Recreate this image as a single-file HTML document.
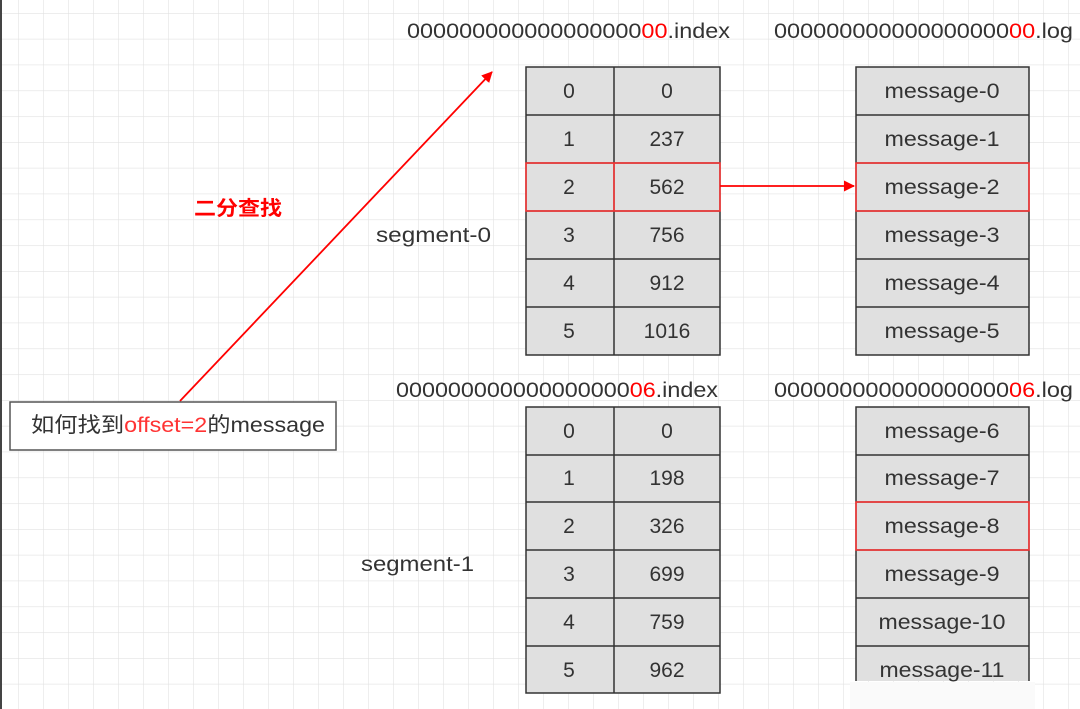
<!DOCTYPE html>
<html><head><meta charset="utf-8"><style>
html,body{margin:0;padding:0;background:#fff}
svg{display:block}
text{font-family:"Liberation Sans","Noto Sans CJK SC",sans-serif;fill:#333;font-size:21px}
</style></head><body>
<svg width="1080" height="709" viewBox="0 0 1080 709" xmlns="http://www.w3.org/2000/svg">
<defs>
<pattern id="g" x="18" y="13" width="25" height="25.8" patternUnits="userSpaceOnUse">
<path d="M0 0V25.8M0 0H25" stroke="#e2e2e2" stroke-width="1.2" fill="none"/>
</pattern>
<marker id="ah" markerWidth="11" markerHeight="11" refX="10" refY="5.5" orient="auto" markerUnits="userSpaceOnUse"><path d="M0 0L11 5.5L0 11Z" fill="#f00"/></marker>
</defs>
<rect width="1080" height="709" fill="#fff"/>
<rect width="1080" height="709" fill="url(#g)"/>
<rect x="0" y="0" width="2" height="709" fill="#444"/>
<g>
<text x="407" y="38" textLength="323" lengthAdjust="spacingAndGlyphs">000000000000000000<tspan style="fill:#f00">00</tspan>.index</text>
<text x="774" y="38" textLength="299" lengthAdjust="spacingAndGlyphs">000000000000000000<tspan style="fill:#f00">00</tspan>.log</text>
<text x="396" y="397" textLength="322" lengthAdjust="spacingAndGlyphs">000000000000000000<tspan style="fill:#f00">06</tspan>.index</text>
<text x="774" y="397" textLength="299" lengthAdjust="spacingAndGlyphs">000000000000000000<tspan style="fill:#f00">06</tspan>.log</text>
<text x="376" y="242" textLength="115" lengthAdjust="spacingAndGlyphs">segment-0</text>
<text x="361" y="571" textLength="113" lengthAdjust="spacingAndGlyphs">segment-1</text>
<text x="194" y="215" style="fill:#f00;font-weight:bold;font-size:20px" textLength="88" lengthAdjust="spacingAndGlyphs">二分查找</text>
</g>
<g stroke="#333" stroke-width="1.5" fill="#e0e0e0">
<rect x="526" y="67" width="194" height="288"/>
<rect x="526" y="407" width="194" height="286"/>
<rect x="856" y="67" width="173" height="288"/>
<rect x="856" y="407" width="173" height="274" stroke="none"/>
<path d="M856 681V407H1029V681" fill="none"/>
<path d="M614 67V355M526 115H720M526 163H720M526 211H720M526 259H720M526 307H720" fill="none"/>
<path d="M614 407V693M526 455H720M526 502H720M526 550H720M526 598H720M526 646H720" fill="none"/>
<path d="M856 115H1029M856 163H1029M856 211H1029M856 259H1029M856 307H1029" fill="none"/>
<path d="M856 455H1029M856 502H1029M856 550H1029M856 598H1029M856 646H1029" fill="none"/>
</g>
<rect x="850" y="682" width="185" height="27" fill="#fafafa"/>
<g stroke="#f33" stroke-width="1.5" fill="none">
<rect x="526" y="163" width="194" height="48"/>
<line x1="614" y1="163" x2="614" y2="211"/>
<rect x="856" y="163" width="173" height="48"/>
<rect x="856" y="502" width="173" height="48"/>
</g>
<g text-anchor="middle">
<text x="569" y="98">0</text><text x="667" y="98">0</text>
<text x="569" y="146">1</text><text x="667" y="146">237</text>
<text x="569" y="194">2</text><text x="667" y="194">562</text>
<text x="569" y="242">3</text><text x="667" y="242">756</text>
<text x="569" y="290">4</text><text x="667" y="290">912</text>
<text x="569" y="338">5</text><text x="667" y="338">1016</text>
<text x="569" y="438">0</text><text x="667" y="438">0</text>
<text x="569" y="485">1</text><text x="667" y="485">198</text>
<text x="569" y="533">2</text><text x="667" y="533">326</text>
<text x="569" y="581">3</text><text x="667" y="581">699</text>
<text x="569" y="629">4</text><text x="667" y="629">759</text>
<text x="569" y="677">5</text><text x="667" y="677">962</text>
</g>
<g text-anchor="middle">
<text x="942" y="98" textLength="115" lengthAdjust="spacingAndGlyphs">message-0</text>
<text x="942" y="146" textLength="115" lengthAdjust="spacingAndGlyphs">message-1</text>
<text x="942" y="194" textLength="115" lengthAdjust="spacingAndGlyphs">message-2</text>
<text x="942" y="242" textLength="115" lengthAdjust="spacingAndGlyphs">message-3</text>
<text x="942" y="290" textLength="115" lengthAdjust="spacingAndGlyphs">message-4</text>
<text x="942" y="338" textLength="115" lengthAdjust="spacingAndGlyphs">message-5</text>
<text x="942" y="438" textLength="115" lengthAdjust="spacingAndGlyphs">message-6</text>
<text x="942" y="485" textLength="115" lengthAdjust="spacingAndGlyphs">message-7</text>
<text x="942" y="533" textLength="115" lengthAdjust="spacingAndGlyphs">message-8</text>
<text x="942" y="581" textLength="115" lengthAdjust="spacingAndGlyphs">message-9</text>
<text x="942" y="629" textLength="127" lengthAdjust="spacingAndGlyphs">message-10</text>
<text x="942" y="677" textLength="125" lengthAdjust="spacingAndGlyphs">message-11</text>
</g>
<g stroke="#f00" stroke-width="1.8" fill="none">
<line x1="180" y1="401" x2="492" y2="72" marker-end="url(#ah)"/>
<line x1="720" y1="186" x2="854" y2="186" marker-end="url(#ah)"/>
</g>
<rect x="10" y="402" width="326" height="48" fill="#fff" stroke="#555" stroke-width="1.5"/>
<text x="31" y="432" textLength="294" lengthAdjust="spacingAndGlyphs">如何找到<tspan style="fill:#f33">offset=2</tspan>的message</text>
</svg>
</body></html>
